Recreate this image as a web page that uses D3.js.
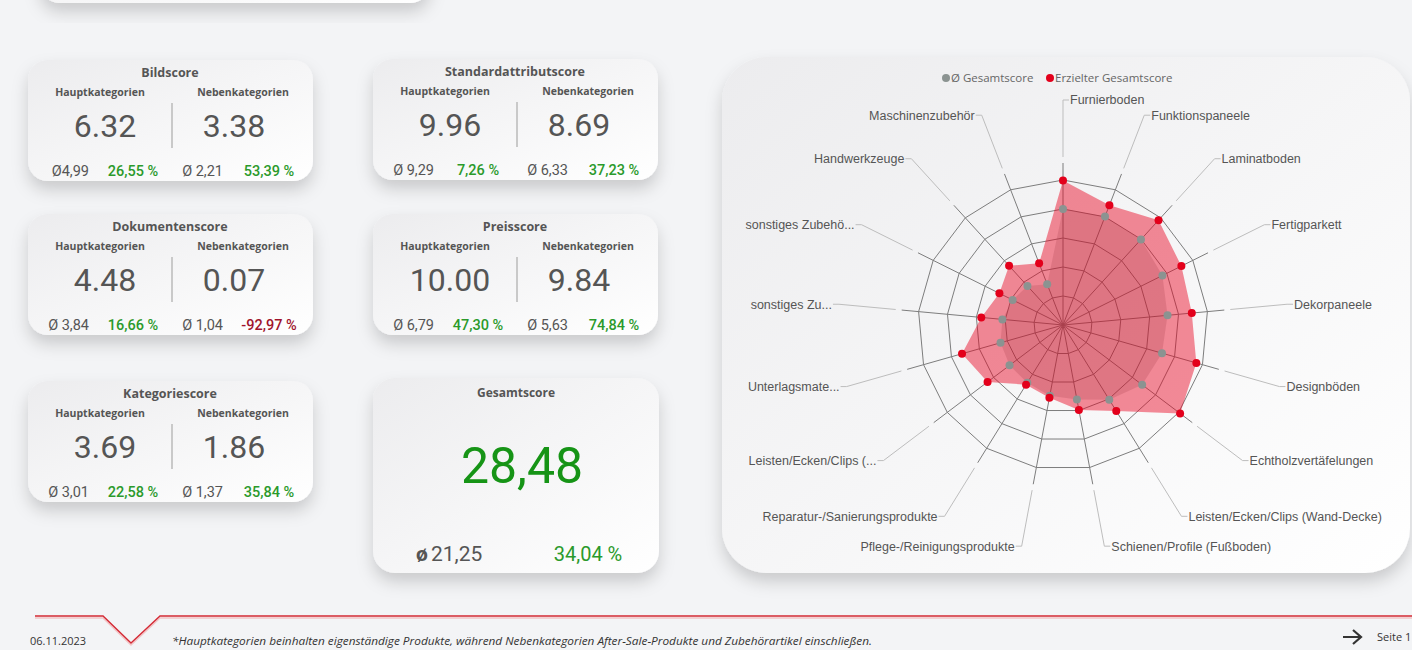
<!DOCTYPE html>
<html>
<head>
<meta charset="utf-8">
<script src="https://cdn.jsdelivr.net/npm/d3@7"></script>
<style>
  body { margin: 0; background: #f3f4f6; overflow: hidden; }
  svg { display: block; }
</style>
</head>
<body>
<script>
// score cards
var cardTitles = ["Bildscore", "Standardattributscore", "Dokumentenscore", "Preisscore", "Kategoriescore"];
var hauptScores = ["6.32", "9.96", "4.48", "10.00", "3.69"];
var nebenScores = ["3.38", "8.69", "0.07", "9.84", "1.86"];
var hauptAvg = ["Ø4,99", "Ø 9,29", "Ø 3,84", "Ø 6,79", "Ø 3,01"];
var hauptDelta = ["26,55 %", "7,26 %", "16,66 %", "47,30 %", "22,58 %"];
var nebenAvg = ["Ø 2,21", "Ø 6,33", "Ø 1,04", "Ø 5,63", "Ø 1,37"];
var nebenDelta = ["53,39 %", "37,23 %", "-92,97 %", "74,84 %", "35,84 %"];

var gesamtScore = "28,48";
var gesamtAvg = "21,25";
var gesamtDelta = "34,04 %";

// radar
var radarCategories = ["Furnierboden", "Funktionspaneele", "Laminatboden", "Fertigparkett", "Dekorpaneele",
    "Designböden", "Echtholzvertäfelungen", "Leisten/Ecken/Clips (Wand-Decke)", "Schienen/Profile (Fußboden)",
    "Pflege-/Reinigungsprodukte", "Reparatur-/Sanierungsprodukte", "Leisten/Ecken/Clips (...",
    "Unterlagsmate...", "sonstiges Zu...", "sonstiges Zubehö...", "Handwerkzeuge", "Maschinenzubehör"];
var avgScores = [40.0, 40.1, 39.9, 38.3, 36.2, 35.5, 34.2, 30.3, 26.1, 24.8, 23.4, 23.1, 22.4, 21.0, 19.4, 18.2, 15.1];
var achievedScores = [49.8, 44.3, 48.9, 45.6, 44.6, 47.8, 50.6, 34.9, 29.8, 25.5, 24.2, 32.6, 36.2, 28.3, 24.5, 27.6, 22.8];
var radarTicks = [10, 20, 30, 40, 50];
var legendLabels = ["Ø Gesamtscore", "Erzielter Gesamtscore"];

var footNote = "*Hauptkategorien beinhalten eigenständige Produkte, während Nebenkategorien After-Sale-Produkte und Zubehörartikel einschließen.";
var reportDate = "06.11.2023";
var pageLabel = "Seite 1";

var width = 1412, height = 650;
var textFont = "'Segoe UI', 'Open Sans', sans-serif";
var numFont = "Roboto, 'DejaVu Sans', sans-serif";
var green = "#2b9a2b";

var svg = d3.select("body").append("svg")
    .attr("width", width)
    .attr("height", height);

var defs = svg.append("defs");
var shadow = defs.append("filter").attr("id", "shadow")
    .attr("x", "-20%").attr("y", "-20%").attr("width", "140%").attr("height", "150%");
shadow.append("feDropShadow")
    .attr("dx", 0).attr("dy", 9).attr("stdDeviation", 8)
    .attr("flood-color", "#000").attr("flood-opacity", 0.17);

var grad = defs.append("linearGradient").attr("id", "cardGrad")
    .attr("x1", 0).attr("y1", 0).attr("x2", 1).attr("y2", 1);
grad.append("stop").attr("offset", "0%").attr("stop-color", "#ececee");
grad.append("stop").attr("offset", "100%").attr("stop-color", "#ffffff");

function card(x, y, w, h, r) {
    return svg.append("rect")
        .attr("x", x).attr("y", y)
        .attr("width", w).attr("height", h)
        .attr("rx", r).attr("ry", r)
        .attr("fill", "url(#cardGrad)")
        .attr("filter", "url(#shadow)");
}

function label(x, y, txt, size, opts) {
    opts = opts || {};
    return svg.append("text")
        .attr("x", x).attr("y", y)
        .attr("text-anchor", opts.anchor || "middle")
        .style("font-family", opts.font || textFont)
        .style("font-size", size + "px")
        .style("font-weight", opts.weight || 400)
        .style("fill", opts.color || "#555")
        .text(txt);
}

// partial card at the very top
card(40, -62, 390, 65, 20);

// the five small score cards
var cardPos = [[28, 60], [373, 59], [28, 214], [373, 214], [28, 381]];
cardTitles.forEach(function (t, i) {
    var x = cardPos[i][0], y = cardPos[i][1];
    card(x, y, 285, 121, 20);
    label(x + 142, y + 17, t, 12.5, { weight: 700 });
    label(x + 72, y + 36, "Hauptkategorien", 10.5, { weight: 700 });
    label(x + 215, y + 36, "Nebenkategorien", 10.5, { weight: 700 });
    label(x + 77, y + 77, hauptScores[i], 32, { font: numFont, color: "#555" });
    label(x + 206, y + 77, nebenScores[i], 32, { font: numFont, color: "#555" });
    svg.append("line")
        .attr("x1", x + 144).attr("x2", x + 144)
        .attr("y1", y + 43).attr("y2", y + 88)
        .attr("stroke", "#c9c9c9").attr("stroke-width", 2);
    label(x + 61, y + 116, hauptAvg[i], 14.5, { font: numFont, anchor: "end" });
    label(x + 105, y + 116, hauptDelta[i], 14.5, { font: numFont, color: green, weight: 500 });
    label(x + 195, y + 116, nebenAvg[i], 14.5, { font: numFont, anchor: "end" });
    label(x + 241, y + 116, nebenDelta[i], 14.5, {
        font: numFont,
        weight: 500,
        color: nebenDelta[i].charAt(0) === "-" ? "#a0142c" : green
    });
});

// Gesamtscore card
card(373, 378, 286, 195, 22);
label(373 + 143, 397, "Gesamtscore", 12, { weight: 700 });
label(373 + 149, 483, gesamtScore, 50, { font: numFont, color: "#169416" });
label(416, 561, "ø", 21, { font: numFont, anchor: "start", weight: 700, color: "#555" });
label(431, 561, gesamtAvg, 21, { font: numFont, anchor: "start" });
label(373 + 215, 561, gesamtDelta, 20, { font: numFont, color: green });

// radar card
card(722, 57, 688, 516, 45);

var cx = 1063, cy = 325;
var n = radarCategories.length;
var r = d3.scaleLinear().domain([0, 50]).range([0, 145]);
var angle = d3.scaleLinear().domain([0, n]).range([0, 2 * Math.PI]);

var radar = svg.append("g").attr("transform", "translate(" + cx + "," + cy + ")");

var ringLine = d3.lineRadial()
    .angle(function (d, i) { return angle(i); })
    .radius(function (d) { return r(d); })
    .curve(d3.curveLinearClosed);

// web rings
radar.selectAll(".ring")
    .data(radarTicks)
    .enter().append("path")
    .attr("class", "ring")
    .attr("d", function (t) { return ringLine(d3.range(n).map(function () { return t; })); })
    .attr("fill", "none")
    .attr("stroke", "#7d7d7d")
    .attr("stroke-width", 1);

function pt(i, rad) {
    var a = angle(i);
    return [Math.sin(a) * rad, -Math.cos(a) * rad];
}

// axes, leader lines and labels
radarCategories.forEach(function (c, i) {
    var a0 = pt(i, 0), a1 = pt(i, 162), l0 = pt(i, 168), l1 = pt(i, 225);
    var right = l1[0] >= 0;
    radar.append("line")
        .attr("x1", a0[0]).attr("y1", a0[1]).attr("x2", a1[0]).attr("y2", a1[1])
        .attr("stroke", "#7d7d7d").attr("stroke-width", 1);
    var tickEnd = l1[0] + (right ? 6 : -6);
    radar.append("path")
        .attr("d", "M" + l0[0] + "," + l0[1] + "L" + l1[0] + "," + l1[1] + "H" + tickEnd)
        .attr("fill", "none")
        .attr("stroke", "#bdbdbd").attr("stroke-width", 1);
    radar.append("text")
        .attr("x", tickEnd + (right ? 1 : -1))
        .attr("y", l1[1])
        .attr("dy", "0.35em")
        .attr("text-anchor", right ? "start" : "end")
        .style("font-family", "'Liberation Sans', Arial, sans-serif")
        .style("font-size", "12.5px")
        .style("fill", "#555")
        .text(c);
});

var areaLine = d3.lineRadial()
    .angle(function (d, i) { return angle(i); })
    .radius(function (d) { return r(d); })
    .curve(d3.curveLinearClosed);

radar.append("path")
    .attr("d", areaLine(avgScores))
    .attr("fill", "#5a5a5a").attr("fill-opacity", 0.2);
radar.append("path")
    .attr("d", areaLine(achievedScores))
    .attr("fill", "#e8001c").attr("fill-opacity", 0.45);

radar.selectAll(".avgDot")
    .data(avgScores)
    .enter().append("circle")
    .attr("cx", function (d, i) { return pt(i, r(d))[0]; })
    .attr("cy", function (d, i) { return pt(i, r(d))[1]; })
    .attr("r", 4)
    .attr("fill", "#8b9391");

radar.selectAll(".achDot")
    .data(achievedScores)
    .enter().append("circle")
    .attr("cx", function (d, i) { return pt(i, r(d))[0]; })
    .attr("cy", function (d, i) { return pt(i, r(d))[1]; })
    .attr("r", 4)
    .attr("fill", "#e3001b");

// legend
var legendX = [946, 1050], legendColors = ["#8b9391", "#e3001b"];
legendLabels.forEach(function (t, i) {
    svg.append("circle").attr("cx", legendX[i]).attr("cy", 78).attr("r", 4).attr("fill", legendColors[i]);
    label(legendX[i] + 5, 82, t, 11.5, { anchor: "start", color: "#666" });
});

// footer
svg.append("path")
    .attr("d", "M35,618H103L131,645L160,618H1412")
    .attr("fill", "none").attr("stroke", "#f2c4c6").attr("stroke-width", 1.5);
svg.append("path")
    .attr("d", "M35,616H103L131,643L160,616H1412")
    .attr("fill", "none").attr("stroke", "#d42a35").attr("stroke-width", 1.4);

label(30, 645, reportDate, 11, { anchor: "start", color: "#333" });
svg.append("text")
    .attr("x", 172).attr("y", 645)
    .attr("textLength", 700).attr("lengthAdjust", "spacingAndGlyphs")
    .style("font-family", textFont)
    .style("font-size", "11px")
    .style("font-style", "italic")
    .style("fill", "#333")
    .text(footNote);

svg.append("path")
    .attr("d", "M1343,637H1360M1353,630L1361,637L1353,644")
    .attr("fill", "none").attr("stroke", "#333").attr("stroke-width", 2.2);
label(1377, 641, pageLabel, 11, { anchor: "start", color: "#333" });
</script>
</body>
</html>
